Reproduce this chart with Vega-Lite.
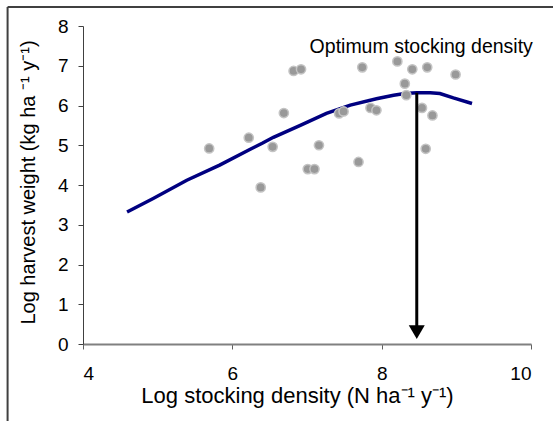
{
  "$schema": "https://vega.github.io/schema/vega-lite/v6.json",
  "width": 448,
  "height": 318,
  "autosize": {"type": "none"},
  "padding": {"left": 83, "top": 26, "right": 22, "bottom": 77},
  "background": "white",
  "config": {
    "view": {"stroke": null},
    "font": "Liberation Sans",
    "axis": {"grid": false, "labelFont": "Liberation Sans", "titleFont": "Liberation Sans", "labelColor": "#000000", "titleColor": "#000000", "titleFontWeight": "normal"}
  },
  "datasets": {
    "frame": [
      {"x": 2.99, "x2": 10.4, "y": 8.48, "y2": 8.48},
      {"x": 2.99, "x2": 2.99, "y": 8.48, "y2": -2.2}
    ],
    "curve": [
      {"x": 4.59, "y": 3.32}, {"x": 4.94, "y": 3.66}, {"x": 5.39, "y": 4.12}, {"x": 5.83, "y": 4.5},
      {"x": 6.24, "y": 4.9}, {"x": 6.4, "y": 5.05}, {"x": 6.55, "y": 5.2}, {"x": 6.91, "y": 5.5},
      {"x": 7.26, "y": 5.8}, {"x": 7.58, "y": 6.01}, {"x": 7.93, "y": 6.17}, {"x": 8.16, "y": 6.26},
      {"x": 8.31, "y": 6.3}, {"x": 8.47, "y": 6.32}, {"x": 8.65, "y": 6.32}, {"x": 8.78, "y": 6.3},
      {"x": 8.96, "y": 6.19}, {"x": 9.21, "y": 6.05}
    ],
    "obs": [
      {"x": 5.69, "y": 4.92}, {"x": 6.22, "y": 5.19}, {"x": 6.38, "y": 3.94}, {"x": 6.54, "y": 4.96},
      {"x": 6.69, "y": 5.81}, {"x": 6.82, "y": 6.87}, {"x": 6.92, "y": 6.91}, {"x": 7.01, "y": 4.4},
      {"x": 7.1, "y": 4.4}, {"x": 7.16, "y": 5.0}, {"x": 7.43, "y": 5.8}, {"x": 7.49, "y": 5.85},
      {"x": 7.69, "y": 4.58}, {"x": 7.74, "y": 6.96}, {"x": 7.85, "y": 5.94}, {"x": 7.93, "y": 5.88},
      {"x": 8.21, "y": 7.11}, {"x": 8.31, "y": 6.55}, {"x": 8.41, "y": 6.91}, {"x": 8.61, "y": 6.96},
      {"x": 8.99, "y": 6.78}, {"x": 8.33, "y": 6.26}, {"x": 8.54, "y": 5.94}, {"x": 8.68, "y": 5.75},
      {"x": 8.59, "y": 4.91}
    ],
    "arrow": [{"x": 8.47, "y": 6.32, "y2": 0.35}],
    "head": [{"x": 8.47, "y": 0.3}],
    "note": [{"x": 8.53, "y": 7.32, "label": "Optimum stocking density"}]
  },
  "encoding": {
    "x": {
      "field": "x", "type": "quantitative",
      "scale": {"domain": [4, 10], "nice": false, "zero": false},
      "axis": {"title": "Log stocking density (N ha⁻¹ y⁻¹)", "values": [4, 6, 8, 10], "tickSize": 5, "domainColor": "#808080", "domainWidth": 2, "tickColor": "#606060", "labelFontSize": 19, "labelPadding": 15, "titleFontSize": 22, "titlePadding": 2, "titleX": 214}
    },
    "y": {
      "field": "y", "type": "quantitative",
      "scale": {"domain": [0, 8], "nice": false, "zero": false},
      "axis": {"title": "Log harvest weight (kg ha ⁻¹ y⁻¹)", "values": [0, 1, 2, 3, 4, 5, 6, 7, 8], "tickSize": 5, "domainColor": "#404040", "tickColor": "#404040", "labelFontSize": 19, "labelPadding": 10, "titleFontSize": 20, "titlePadding": 19, "titleY": 156}
    }
  },
  "layer": [
    {
      "data": {"name": "frame"},
      "mark": {"type": "rule", "color": "#404040", "strokeWidth": 2},
      "encoding": {"x2": {"field": "x2"}, "y2": {"field": "y2"}}
    },
    {
      "data": {"name": "curve"},
      "mark": {"type": "line", "color": "#000080", "strokeWidth": 3.5},
      "encoding": {}
    },
    {
      "data": {"name": "obs"},
      "mark": {"type": "point", "filled": true, "fill": "#999999", "stroke": "#c4c4c4", "strokeWidth": 1.5, "size": 85, "opacity": 1}
    },
    {
      "data": {"name": "arrow"},
      "mark": {"type": "rule", "color": "#000000", "strokeWidth": 3},
      "encoding": {"y2": {"field": "y2"}}
    },
    {
      "data": {"name": "head"},
      "mark": {"type": "point", "shape": "triangle-down", "filled": true, "fill": "#000000", "size": 256, "opacity": 1}
    },
    {
      "data": {"name": "note"},
      "mark": {"type": "text", "fontSize": 19.5, "align": "center", "baseline": "alphabetic", "color": "#000000"},
      "encoding": {"text": {"field": "label"}}
    }
  ]
}
